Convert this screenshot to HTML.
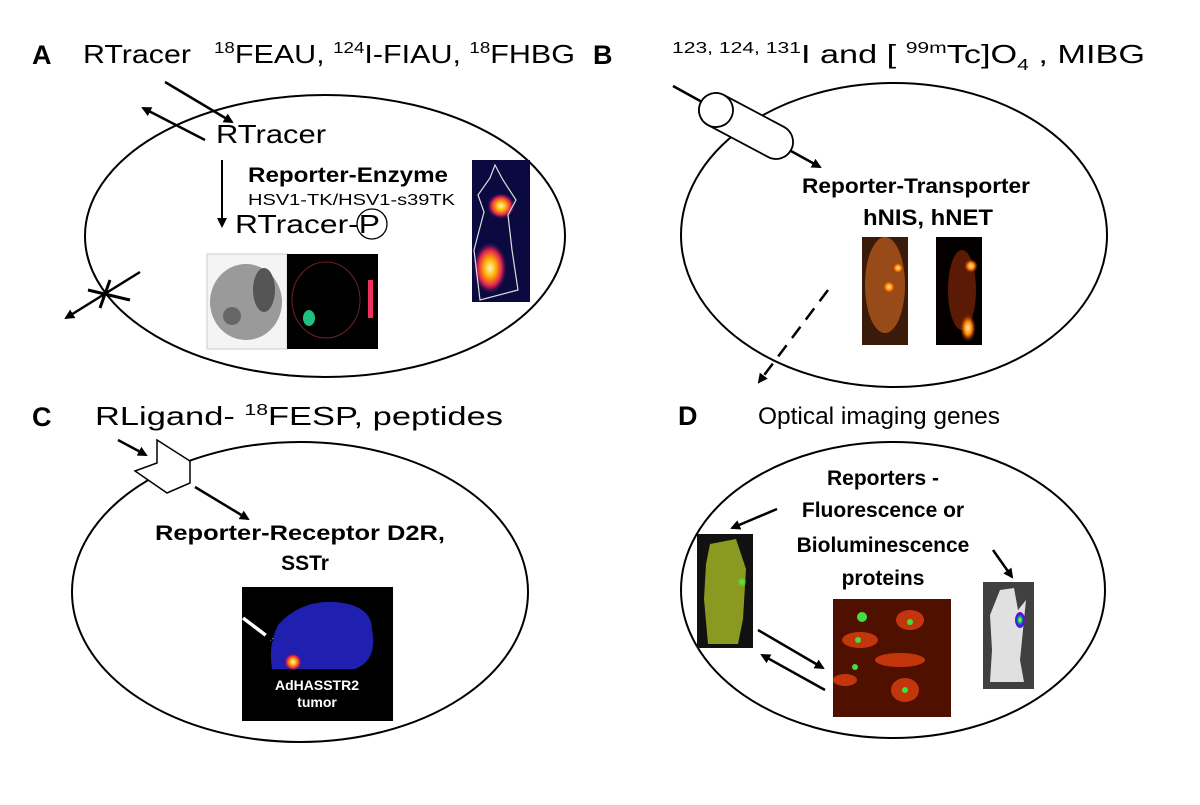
<!DOCTYPE html>
<html><head><meta charset="utf-8"><style>
body{margin:0;background:#fff;}
svg text{font-family:"Liberation Sans",Arial,sans-serif;fill:#000;}
</style></head><body>
<svg width="1200" height="800" viewBox="0 0 1200 800" xmlns="http://www.w3.org/2000/svg">
<defs>
<marker id="ah" markerWidth="10" markerHeight="10" refX="8" refY="5" orient="auto" markerUnits="userSpaceOnUse">
<path d="M0,0 L10,5 L0,10 z" fill="#000"/></marker>
<radialGradient id="hot" cx="50%" cy="50%" r="50%"><stop offset="0" stop-color="#fff8c0"/><stop offset="0.35" stop-color="#ffb000"/><stop offset="0.7" stop-color="#e02050"/><stop offset="1" stop-color="#301060" stop-opacity="0"/></radialGradient>
<radialGradient id="orb" cx="50%" cy="50%" r="50%"><stop offset="0" stop-color="#fff0a0"/><stop offset="0.5" stop-color="#ff8000"/><stop offset="1" stop-color="#802000" stop-opacity="0"/></radialGradient>
<radialGradient id="grn" cx="50%" cy="50%" r="50%"><stop offset="0" stop-color="#40ff40"/><stop offset="1" stop-color="#40ff40" stop-opacity="0"/></radialGradient>
<radialGradient id="lum" cx="50%" cy="50%" r="50%"><stop offset="0" stop-color="#ffff00"/><stop offset="0.4" stop-color="#00c060"/><stop offset="0.7" stop-color="#2020ff"/><stop offset="1" stop-color="#a000c0"/></radialGradient>
</defs>

<ellipse cx="325" cy="236" rx="240" ry="141" fill="none" stroke="#000" stroke-width="2"/>
<ellipse cx="894" cy="235" rx="213" ry="152" fill="none" stroke="#000" stroke-width="2"/>
<ellipse cx="300" cy="592" rx="228" ry="150" fill="none" stroke="#000" stroke-width="2"/>
<ellipse cx="893" cy="590" rx="212" ry="148" fill="none" stroke="#000" stroke-width="2"/>

<!-- Panel A -->
<text x="32" y="64" font-size="27" font-weight="bold">A</text>
<text x="83" y="63" font-size="26" textLength="108" lengthAdjust="spacingAndGlyphs">RTracer</text>
<text x="214" y="63" font-size="26" textLength="361" lengthAdjust="spacingAndGlyphs"><tspan font-size="16" dy="-10">18</tspan><tspan dy="10">FEAU, </tspan><tspan font-size="16" dy="-10">124</tspan><tspan dy="10">I-FIAU, </tspan><tspan font-size="16" dy="-10">18</tspan><tspan dy="10">FHBG</tspan></text>
<line x1="165" y1="82" x2="232" y2="122" stroke="#000" stroke-width="2.5" marker-end="url(#ah)"/>
<line x1="205" y1="140" x2="143" y2="108" stroke="#000" stroke-width="2.5" marker-end="url(#ah)"/>
<text x="216" y="143" font-size="26" textLength="110" lengthAdjust="spacingAndGlyphs">RTracer</text>
<line x1="222" y1="160" x2="222" y2="226" stroke="#000" stroke-width="2" marker-end="url(#ah)"/>
<text x="248" y="182" font-size="21" font-weight="bold" textLength="200" lengthAdjust="spacingAndGlyphs">Reporter-Enzyme</text>
<text x="248" y="205" font-size="16" textLength="207" lengthAdjust="spacingAndGlyphs">HSV1-TK/HSV1-s39TK</text>
<text x="235" y="233" font-size="26" textLength="145" lengthAdjust="spacingAndGlyphs">RTracer-P</text>
<circle cx="372" cy="224" r="15" fill="none" stroke="#000" stroke-width="1.3"/>
<line x1="140" y1="272" x2="66" y2="318" stroke="#000" stroke-width="2.5" marker-end="url(#ah)"/>
<line x1="88" y1="290" x2="130" y2="300" stroke="#000" stroke-width="3"/>
<line x1="110" y1="280" x2="100" y2="308" stroke="#000" stroke-width="3"/>
<rect x="207" y="254" width="80" height="95" fill="#f4f4f4" stroke="#ccc"/>
<ellipse cx="246" cy="302" rx="36" ry="38" fill="#9a9a9a"/>
<ellipse cx="264" cy="290" rx="11" ry="22" fill="#555"/>
<ellipse cx="232" cy="316" rx="9" ry="9" fill="#666"/>
<rect x="287" y="254" width="91" height="95" fill="#000"/>
<ellipse cx="326" cy="300" rx="34" ry="38" fill="none" stroke="#702020"/>
<ellipse cx="309" cy="318" rx="6" ry="8" fill="#20c080"/>
<rect x="368" y="280" width="5" height="38" fill="#f03060"/>
<rect x="472" y="160" width="58" height="142" fill="#0a0a40"/>
<ellipse cx="501" cy="206" rx="14" ry="13" fill="url(#hot)"/>
<ellipse cx="490" cy="268" rx="17" ry="26" fill="url(#hot)"/>
<path d="M495 165 L503 180 L516 200 L508 215 L512 250 L518 290 L480 300 L474 250 L484 212 L478 195 L490 178z" fill="none" stroke="#ddd" stroke-width="1.2"/>

<!-- Panel B -->
<text x="593" y="64" font-size="27" font-weight="bold">B</text>
<text x="672" y="63" font-size="26" textLength="473" lengthAdjust="spacingAndGlyphs"><tspan font-size="16" dy="-10">123, 124, 131</tspan><tspan dy="10">I and [ </tspan><tspan font-size="16" dy="-10">99m</tspan><tspan dy="10">Tc]O</tspan><tspan font-size="16" dy="7">4</tspan><tspan dy="-7"> , MIBG</tspan></text>
<line x1="673" y1="86" x2="820" y2="167" stroke="#000" stroke-width="2.5" marker-end="url(#ah)"/>
<g transform="translate(746,126) rotate(28)">
<rect x="-51" y="-17" width="102" height="34" rx="17" fill="#fff" stroke="#000" stroke-width="1.8"/>
<ellipse cx="-34" cy="0" rx="17" ry="17" fill="#fff" stroke="#000" stroke-width="1.8"/>
</g>
<text x="802" y="193" font-size="21" font-weight="bold" textLength="228" lengthAdjust="spacingAndGlyphs">Reporter-Transporter</text>
<text x="863" y="225" font-size="22" font-weight="bold" textLength="130" lengthAdjust="spacingAndGlyphs">hNIS, hNET</text>
<rect x="862" y="237" width="46" height="108" fill="#3a1a08"/>
<ellipse cx="885" cy="285" rx="20" ry="48" fill="#c06020" opacity="0.7"/>
<circle cx="889" cy="287" r="7" fill="url(#orb)"/>
<circle cx="898" cy="268" r="6" fill="url(#orb)"/>
<rect x="936" y="237" width="46" height="108" fill="#050000"/>
<ellipse cx="962" cy="290" rx="14" ry="40" fill="#702008" opacity="0.8"/>
<circle cx="971" cy="266" r="7" fill="url(#orb)"/>
<ellipse cx="968" cy="328" rx="8" ry="14" fill="url(#orb)"/>
<line x1="828" y1="290" x2="759" y2="382" stroke="#000" stroke-width="2.5" stroke-dasharray="14,9" marker-end="url(#ah)"/>

<!-- Panel C -->
<text x="32" y="426" font-size="27" font-weight="bold">C</text>
<text x="95" y="425" font-size="26" textLength="408" lengthAdjust="spacingAndGlyphs">RLigand- <tspan font-size="16" dy="-10">18</tspan><tspan dy="10">FESP, peptides</tspan></text>
<line x1="118" y1="440" x2="146" y2="455" stroke="#000" stroke-width="2.5" marker-end="url(#ah)"/>
<path d="M157 440 L190 461 L190 483 L167 493 L135 471 L157 463 z" fill="#fff" stroke="#000" stroke-width="1.5"/>
<line x1="195" y1="487" x2="248" y2="519" stroke="#000" stroke-width="2.5" marker-end="url(#ah)"/>
<text x="155" y="540" font-size="21" font-weight="bold" textLength="290" lengthAdjust="spacingAndGlyphs">Reporter-Receptor D2R,</text>
<text x="305" y="570" font-size="21" font-weight="bold" text-anchor="middle">SSTr</text>
<rect x="242" y="587" width="151" height="134" fill="#000"/>
<path d="M278 625 Q300 600 335 602 Q372 605 372 630 Q378 660 355 669 L272 669 Q268 645 278 625z" fill="#2020b0"/>
<circle cx="293" cy="662" r="9" fill="url(#hot)"/>
<line x1="243" y1="618" x2="272" y2="640" stroke="#fff" stroke-width="3.5" marker-end="url(#ah)"/>
<text x="317" y="690" font-size="14" font-weight="bold" text-anchor="middle" style="fill:#fff">AdHASSTR2</text>
<text x="317" y="707" font-size="14" font-weight="bold" text-anchor="middle" style="fill:#fff">tumor</text>

<!-- Panel D -->
<text x="678" y="425" font-size="27" font-weight="bold">D</text>
<text x="758" y="424" font-size="24" textLength="242" lengthAdjust="spacingAndGlyphs">Optical imaging genes</text>
<text x="883" y="485" font-size="21" font-weight="bold" text-anchor="middle">Reporters -</text>
<text x="883" y="517" font-size="21" font-weight="bold" text-anchor="middle">Fluorescence or</text>
<text x="883" y="552" font-size="21" font-weight="bold" text-anchor="middle">Bioluminescence</text>
<text x="883" y="585" font-size="21" font-weight="bold" text-anchor="middle">proteins</text>
<line x1="777" y1="509" x2="732" y2="528" stroke="#000" stroke-width="2.5" marker-end="url(#ah)"/>
<line x1="993" y1="550" x2="1012" y2="577" stroke="#000" stroke-width="2.5" marker-end="url(#ah)"/>
<rect x="697" y="534" width="56" height="114" fill="#111"/>
<path d="M710 544 L736 539 L746 569 L743 619 L738 644 L708 644 L704 599 L706 564z" fill="#8a9a20"/>
<circle cx="742" cy="582" r="5" fill="url(#grn)"/>
<rect x="833" y="599" width="118" height="118" fill="#501000"/>
<g fill="#e04010" opacity="0.8">
<ellipse cx="860" cy="640" rx="18" ry="8"/><ellipse cx="900" cy="660" rx="25" ry="7"/><ellipse cx="910" cy="620" rx="14" ry="10"/><ellipse cx="905" cy="690" rx="14" ry="12"/><ellipse cx="845" cy="680" rx="12" ry="6"/></g>
<g fill="#40e040"><circle cx="862" cy="617" r="5"/><circle cx="858" cy="640" r="3"/><circle cx="910" cy="622" r="3"/><circle cx="855" cy="667" r="3"/><circle cx="905" cy="690" r="3"/></g>
<line x1="758" y1="630" x2="823" y2="668" stroke="#000" stroke-width="2.5" marker-end="url(#ah)"/>
<line x1="825" y1="690" x2="762" y2="655" stroke="#000" stroke-width="2.5" marker-end="url(#ah)"/>
<rect x="983" y="582" width="51" height="107" fill="#404040"/>
<path d="M1000 590 L1014 588 L1018 610 L1026 600 L1024 620 L1020 660 L1024 682 L990 682 L992 650 L990 615z" fill="#e0e0e0"/>
<ellipse cx="1020" cy="620" rx="5" ry="8" fill="url(#lum)"/>
</svg>
</body></html>
